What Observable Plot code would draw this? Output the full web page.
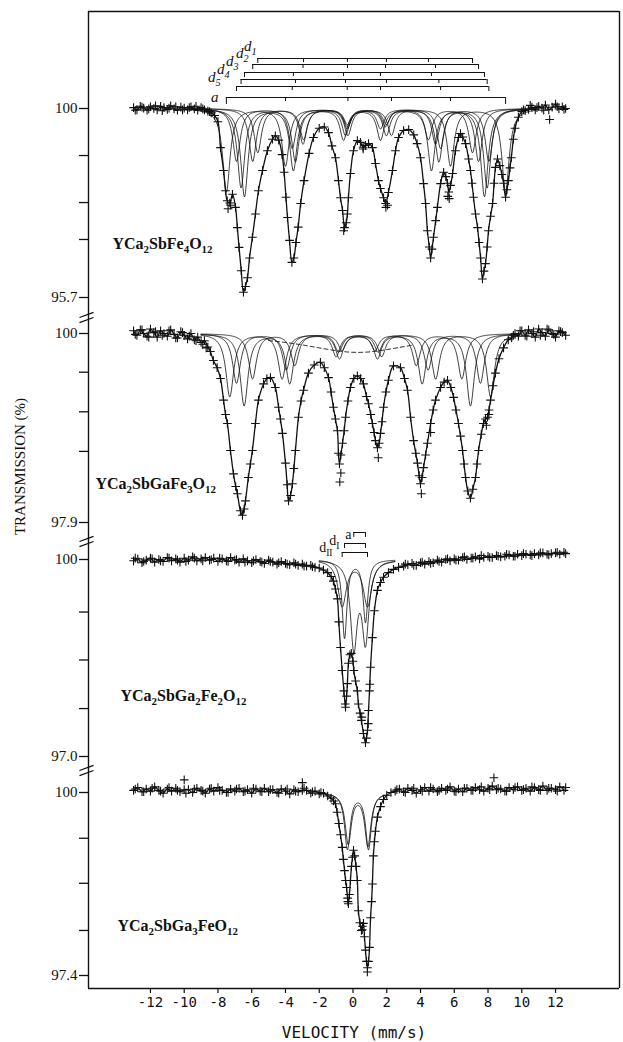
<!DOCTYPE html>
<html><head><meta charset="utf-8">
<script src="https://cdn.jsdelivr.net/npm/d3@7"></script>
<script src="https://cdn.jsdelivr.net/npm/@observablehq/plot@0.6"></script>
<style>
html,body{margin:0;padding:0;background:#fff;}
#chart{position:relative;width:623px;height:1042px;overflow:hidden;background:#fff;}
#chart svg{position:absolute;left:0;top:0;}
</style></head><body><div id="chart"></div>
<script>
// ======================= DATA =======================
const velocityTicks = [-12,-10,-8,-6,-4,-2,0,2,4,6,8,10,12];
const xTitle = "VELOCITY (mm/s)";
const yTitle = "TRANSMISSION (%)";

// ---- Panel 1: YCa2SbFe4O12 ----
const p1Formula = "YCa_{2}SbFe_{4}O_{12}";
const p1Ticks = [100, 98.93, 97.86, 97.02, 95.7];
const p1TickLabels = ["100", "", "", "", "95.7"];
const p1Vel = [-13,-12.8,-12.6,-12.4,-12.2,-12,-11.8,-11.6,-11.4,-11.2,-11,-10.8,-10.6,-10.4,-10.2,-10,-9.8,-9.6,-9.4,-9.2,-9,-8.8,-8.6,-8.4,-8.2,
 -8,-7.85,-7.67,-7.55,-7.45,-7.3,-7.14,-6.96,-6.85,-6.75,-6.62,-6.49,-6.37,-6.25,-6.13,-5.96,-5.78,-5.6,-5.36,-5.07,-4.77,-4.6,-4.4,-4.2,-4.08,-3.97,-3.88,-3.76,-3.62,-3.5,-3.38,-3.25,-3.1,-2.9,-2.6,-2.34,-2,-1.7,-1.45,-1.25,-1.04,-0.86,-0.74,-0.62,-0.5,-0.4,-0.33,-0.27,-0.15,0.03,0.26,0.44,0.6,0.74,0.92,1.15,1.33,1.51,1.63,1.81,1.93,2.1,2.34,2.52,2.7,3,3.3,3.6,3.8,4,4.18,4.3,4.41,4.52,4.6,4.68,4.77,4.9,5,5.19,5.37,5.5,5.6,5.68,5.78,5.9,6.07,6.25,6.37,6.5,6.67,6.85,6.96,7.05,7.14,7.26,7.38,7.47,7.56,7.67,7.76,7.85,7.95,8.03,8.15,8.27,8.36,8.44,8.56,8.7,8.82,8.92,9.04,9.12,9.21,9.3,9.38,9.5,9.6,9.8,10,
 10.2,10.4,10.6,10.8,11,11.2,11.4,11.6,11.8,12,12.2,12.4,12.6];
const p1Trans = [100.02,99.97,100.05,100.01,99.96,100.04,100,99.97,100.05,100.02,99.98,100.06,99.99,99.96,100.03,100.01,99.97,100.04,99.99,99.96,100.02,99.97,99.94,99.9,99.84,
 99.7,99.11,98.59,98.13,97.9,97.85,98.05,97.75,97.29,96.84,96.31,95.82,95.95,96.15,96.6,97.07,97.6,98.13,98.59,99.04,99.3,99.38,99.28,98.95,98.55,97.98,97.52,97,96.5,96.6,96.95,97.3,97.84,98.36,98.98,99.34,99.55,99.58,99.45,99.15,98.88,98.36,97.97,97.68,97.29,97.4,97.6,97.97,98.52,99.04,99.27,99.23,99.12,99.16,99.2,99.11,98.75,98.36,98.18,97.97,97.84,98.09,98.59,99.04,99.34,99.5,99.52,99.4,99.2,98.88,98.29,97.84,97.22,96.85,96.6,96.8,97.07,97.45,97.75,98.29,98.55,98.45,98.3,98.1,98.25,98.52,99.04,99.34,99.43,99.35,99.2,98.85,98.59,98.3,97.98,97.6,97.29,96.95,96.6,96.12,96.3,96.47,96.85,97.22,97.55,97.84,98.3,98.66,98.85,98.7,98.5,98.3,97.98,98.15,98.36,98.65,98.88,99.3,99.55,99.8,99.93,
 99.95,99.98,100.03,99.97,100.05,100.01,100.08,99.97,100.03,100.1,99.99,100.04,100];
const p1OutVel = [-12.9,-12.5,-12.1,-11.7,-11.3,-10.9,-10.5,-10.1,-9.7,-9.3,-8.9,-8.5,-7.4,-7.25,-0.55,0.6,1.95,2.05,5.62,5.7,10.1,10.5,10.9,11.3,11.65,12.1,12.5];
const p1OutTrans = [99.96,100.03,99.99,100.06,99.95,100.01,100.04,99.97,100.02,100.05,99.99,99.93,97.72,97.8,97.22,99.08,97.75,97.8,98.0,97.95,99.97,100.07,100.02,99.96,99.75,100.04,99.98];
const p1SiteNames = ["a","d_{5}","d_{4}","d_{3}","d_{2}","d_{1}"];
const p1SiteLines = [
  [-7.5,-4.0,-0.3,2.28,5.78,9.04],
  [-6.9,-3.6,-0.34,1.63,5.19,8.05],
  [-6.63,-3.41,-0.44,1.98,5.09,7.95],
  [-6.43,-3.53,-0.56,1.63,4.65,7.79],
  [-5.94,-2.96,-0.33,1.93,4.89,7.44],
  [-5.64,-2.93,-0.33,1.98,4.47,7.08]];
const p1SiteDepths = [
  [1.9,1.3,0.6,0.6,1.3,1.9],
  [1.2,0.9,0.45,0.45,0.9,1.2],
  [1.8,1.2,0.6,0.6,1.2,1.8],
  [2.0,1.4,0.7,0.7,1.4,2.0],
  [1.2,0.8,0.4,0.4,0.8,1.2],
  [1.0,0.7,0.35,0.35,0.7,1.0]];
const p1HalfWidth = 0.26;

// ---- Panel 2: YCa2SbGaFe3O12 ----
const p2Formula = "YCa_{2}SbGaFe_{3}O_{12}";
const p2Ticks = [100, 99.57, 99.13, 98.69, 97.9];
const p2TickLabels = ["100", "", "", "", "97.9"];
const p2Vel = [-13,-12.8,-12.6,-12.4,-12.2,-12,-11.8,-11.6,-11.4,-11.2,-11,-10.8,-10.6,-10.4,-10.2,-10,-9.8,-9.6,-9.4,-9.2,-9,-8.8,-8.6,-8.45,
 -8.27,-8.05,-7.85,-7.67,-7.55,-7.44,-7.26,-7.08,-6.95,-6.85,-6.67,-6.55,-6.45,-6.37,-6.2,-6.08,-5.96,-5.78,-5.6,-5.3,-5.1,-4.89,-4.6,-4.41,-4.3,-4.18,-4,-3.9,-3.82,-3.7,-3.59,-3.5,-3.41,-3.23,-3.08,-2.93,-2.64,-2.3,-1.93,-1.7,-1.45,-1.3,-1.16,-1.04,-0.92,-0.86,-0.8,-0.72,-0.62,-0.52,-0.44,-0.3,-0.15,0.05,0.26,0.45,0.62,0.8,0.92,1.05,1.15,1.25,1.33,1.45,1.55,1.63,1.72,1.81,1.95,2.1,2.4,2.81,3.05,3.23,3.41,3.59,3.72,3.82,3.92,4,4.09,4.18,4.3,4.41,4.6,4.75,4.89,5.19,5.4,5.6,5.8,5.96,6.1,6.25,6.37,6.49,6.58,6.67,6.8,6.96,7.1,7.26,7.35,7.44,7.6,7.73,7.85,7.97,8.06,8.15,8.3,8.44,8.65,8.92,9.2,
 9.4,9.6,9.8,10,10.2,10.4,10.6,10.8,11,11.2,11.4,11.6,11.8,12,12.2,12.4,12.6];
const p2Trans = [100.03,99.98,100.04,100,99.97,100.05,100.01,99.96,100.03,100,99.97,100.04,99.99,99.95,100.02,99.98,99.94,100,99.93,99.96,99.9,99.92,99.85,99.8,
 99.7,99.62,99.5,99.26,99.1,99,98.7,98.44,98.3,98.22,98.03,97.98,98.05,98.14,98.4,98.55,98.7,99,99.26,99.44,99.5,99.51,99.4,99.18,99.05,98.89,98.56,98.32,98.14,98.2,98.33,98.5,98.7,99.07,99.25,99.37,99.56,99.65,99.68,99.62,99.51,99.35,99.18,99.05,98.92,98.67,98.55,98.65,98.78,98.92,99.07,99.25,99.4,99.5,99.53,99.5,99.44,99.3,99.22,99.1,99,98.9,98.81,98.73,98.78,98.89,99.02,99.18,99.35,99.48,99.64,99.62,99.5,99.37,99.07,98.81,98.67,98.56,98.42,98.33,98.4,98.51,98.65,98.78,99,99.15,99.26,99.4,99.46,99.48,99.4,99.29,99.15,99,98.86,98.7,98.55,98.4,98.25,98.17,98.27,98.4,98.55,98.7,98.88,99,99.05,99.07,99.15,99.26,99.42,99.56,99.72,99.84,99.93,
 99.95,100,99.97,100.03,99.98,100.04,100,99.96,100.05,100.01,99.97,100.04,100,99.96,100.03,100.01,99.98];
const p2OutVel = [-12.9,-12.5,-12.1,-11.7,-11.3,-10.9,-10.5,-10.1,-9.7,-9.3,-8.9,-8.7,-0.78,-0.72,1.5,4.05,4.6,7.9,8.05,9.5,9.9,10.3,10.7,11.1,11.5,11.9,12.3];
const p2OutTrans = [99.99,100.04,99.96,100.02,99.98,100.03,99.95,100.01,99.97,99.92,99.88,99.84,98.35,98.45,98.62,98.22,98.9,98.98,99.1,99.98,100.03,99.97,100.02,99.98,100.05,99.99,100.02];
const p2SiteLines = [
  [-7.3,-4.2,-1.0,1.7,4.9,8.15],
  [-6.9,-3.95,-0.85,1.5,4.45,7.55],
  [-6.45,-3.75,-0.8,1.45,4.1,6.96],
  [-5.95,-3.45,-0.65,1.3,3.75,6.45]];
const p2SiteDepths = [
  [0.7,0.5,0.25,0.25,0.5,0.7],
  [0.55,0.4,0.2,0.2,0.4,0.55],
  [0.8,0.55,0.27,0.27,0.55,0.8],
  [0.5,0.35,0.18,0.18,0.35,0.5]];
const p2HalfWidth = 0.28;
const p2BroadCenter = 0.3, p2BroadDepth = 0.21, p2BroadHalfWidth = 4.1;
const p2BroadSpan = [-5.0, 3.5];

// ---- Panel 3: YCa2SbGa2Fe2O12 ----
const p3Formula = "YCa_{2}SbGa_{2}Fe_{2}O_{12}";
const p3Ticks = [100, 99.2, 98.47, 97.73, 97.0];
const p3TickLabels = ["100", "", "", "", "97.0"];
const p3Vel = [-13,-12.75,-12.5,-12.25,-12,-11.75,-11.5,-11.25,-11,-10.75,-10.5,-10.25,-10,-9.75,-9.5,-9.25,-9,-8.75,-8.5,-8.25,-8,-7.75,-7.5,-7.25,-7,-6.75,-6.5,-6.25,-6,-5.75,-5.5,-5.25,-5,-4.75,-4.5,-4.25,-4,-3.75,-3.5,-3.25,-3,-2.75,-2.5,-2.25,
 -2,-1.75,-1.5,-1.3,-1.16,-1.04,-0.92,-0.84,-0.74,-0.64,-0.54,-0.44,-0.38,-0.33,-0.27,-0.18,-0.1,0,0.05,0.15,0.26,0.32,0.42,0.5,0.62,0.74,0.8,0.86,0.92,0.98,1.04,1.15,1.27,1.45,1.63,1.81,2.1,2.4,2.7,
 3,3.25,3.5,3.75,4,4.25,4.5,4.75,5,5.25,5.5,5.75,6,6.25,6.5,6.75,7,7.25,7.5,7.75,8,8.25,8.5,8.75,9,9.25,9.5,9.75,10,10.25,10.5,10.75,11,11.25,11.5,11.75,12,12.25,12.5];
const p3Trans = [99.98,100.01,99.95,99.99,100.02,99.96,100,99.97,100.03,99.98,100.01,99.96,100.02,99.99,100.04,99.98,100.01,100.03,99.99,100.02,99.97,100.01,99.98,100.03,99.99,99.96,100.01,99.98,99.95,100,99.97,99.94,99.99,99.96,99.93,99.97,99.94,99.92,99.95,99.91,99.93,99.9,99.91,99.88,
 99.87,99.84,99.8,99.74,99.67,99.55,99.4,99.05,98.66,98.31,98,97.75,97.92,98.11,98.42,98.55,98.57,98.45,98.31,98.15,98,97.8,97.66,97.55,97.35,97.21,97.28,97.4,97.7,98,98.36,98.81,99.22,99.53,99.65,99.73,99.8,99.85,99.88,
 99.9,99.92,99.94,99.91,99.95,99.93,99.97,99.95,99.99,99.96,100,99.98,100.01,99.99,100.03,100,100.02,100.04,100.01,100.03,100.05,100.03,100.06,100.04,100.05,100.07,100.05,100.08,100.06,100.08,100.07,100.09,100.07,100.1,100.08,100.09,100.1,100.08,100.11];
const p3OutVel = [-12.9,-12.4,-11.9,-11.4,-10.9,-10.4,-9.9,-9.4,-8.9,-8.4,-7.9,-7.4,-6.9,-6.4,-5.9,-5.4,-4.9,-4.4,-3.9,-3.4,-2.9,-2.4,-0.46,0.52,0.9,1.0,
 3.1,3.6,4.1,4.6,5.1,5.6,6.1,6.6,7.1,7.6,8.1,8.6,9.1,9.6,10.1,10.6,11.1,11.6,12.1,12.6];
const p3OutTrans = [100.02,99.97,100.01,99.98,100.02,99.99,99.97,100.02,99.98,100.0,100.02,99.97,100.0,99.96,99.98,99.96,99.97,99.95,99.93,99.93,99.9,99.89,97.8,97.6,97.5,98.1,
 99.93,99.91,99.96,99.94,99.97,100.01,99.99,100.04,100.02,100.06,100.03,100.05,100.08,100.05,100.09,100.06,100.1,100.07,100.11,100.09];
const p3SiteNames = ["a","d_{I}","d_{II}"];
const p3SiteLines = [[0.05,0.74],[-0.5,0.74],[-0.64,0.86]];
const p3SiteDepths = [[1.3,1.2],[1.2,0.95],[0.7,0.7]];
const p3SiteHalfWidths = [0.24,0.17,0.3];

// ---- Panel 4: YCa2SbGa3FeO12 ----
const p4Formula = "YCa_{2}SbGa_{3}FeO_{12}";
const p4Ticks = [100, 99.35, 98.71, 98.04, 97.4];
const p4TickLabels = ["100", "", "", "", "97.4"];
const p4Vel = [-13,-12.75,-12.5,-12.25,-12,-11.75,-11.5,-11.25,-11,-10.75,-10.5,-10.25,-10,-9.75,-9.5,-9.25,-9,-8.75,-8.5,-8.25,-8,-7.75,-7.5,-7.25,-7,-6.75,-6.5,-6.25,-6,-5.75,-5.5,-5.25,-5,-4.75,-4.5,-4.25,-4,-3.75,-3.5,-3.25,-3,-2.75,-2.5,-2.25,-2,
 -1.75,-1.5,-1.3,-1.15,-1.04,-0.94,-0.84,-0.74,-0.64,-0.57,-0.5,-0.44,-0.38,-0.32,-0.27,-0.21,-0.15,-0.09,-0.03,0.03,0.1,0.18,0.26,0.32,0.41,0.5,0.56,0.62,0.68,0.74,0.8,0.86,0.92,0.98,1.04,1.1,1.15,1.21,1.27,1.33,1.45,1.63,1.81,2,2.25,
 2.5,2.75,3,3.25,3.5,3.75,4,4.25,4.5,4.75,5,5.25,5.5,5.75,6,6.25,6.5,6.75,7,7.25,7.5,7.75,8,8.25,8.5,8.75,9,9.25,9.5,9.75,10,10.25,10.5,10.75,11,11.25,11.5,11.75,12,12.25,12.5];
const p4Trans = [100.03,100.07,100.01,100.05,100.02,100.08,100.03,99.99,100.05,100.02,100.06,100.01,100.04,100.04,100,100.06,100.03,99.99,100.05,100.02,100.07,100.03,100,100.05,100.02,100.06,100.01,100.04,99.99,100.05,100.02,100.06,100.01,100.04,100,100.05,100.02,99.98,100.04,100.01,100.03,100.03,99.99,100.02,99.98,
 99.99,99.95,99.92,99.88,99.84,99.72,99.56,99.4,99.22,99.05,98.89,98.75,98.65,98.5,98.42,98.55,98.75,98.95,99.08,99.18,99.1,98.95,98.75,98.32,98.15,98.04,98.1,98.14,97.95,97.76,97.6,97.51,97.6,97.8,98.22,98.45,98.7,99.1,99.3,99.45,99.65,99.8,99.9,99.96,100,
 100.02,100.05,100.01,100.06,100.03,99.99,100.04,100.07,100.02,100.05,100.01,100.06,100.03,100.08,100.02,100.05,100.01,100.06,100.03,100.07,100.04,100.02,100.06,100.09,100.04,100.05,100.02,100.07,100.04,100.08,100.03,100.06,100.02,100.07,100.04,100.09,100.03,100.06,100.04,100.08,100.03];
const p4OutVel = [-10,-3,8.35,-0.3,0.55,0.85,
 -12.9,-12.4,-11.9,-11.4,-10.9,-10.4,-9.9,-9.4,-8.9,-8.4,-7.9,-7.4,-6.9,-6.4,-5.9,-5.4,-4.9,-4.4,-3.9,-3.4,-2.9,-2.4,-1.9,
 2.6,3.1,3.6,4.1,4.6,5.1,5.6,6.1,6.6,7.1,7.6,8.1,8.6,9.1,9.6,10.1,10.6,11.1,11.6,12.1,12.6];
const p4OutTrans = [100.18,100.14,100.21,98.45,98.05,97.45,
 100.05,100.01,100.06,100.02,100.07,100.03,99.99,100.05,100.02,100.06,100.03,100.0,100.05,100.02,100.06,100.01,100.04,99.99,100.05,100.02,100.06,100.01,100.0,
 100.04,100.0,100.06,100.02,100.07,100.03,100.05,100.01,100.06,100.03,100.08,100.04,100.06,100.02,100.07,100.04,100.08,100.03,100.06,100.02,100.07];
const p4SiteLines = [[-0.33,0.92],[-0.28,0.88]];
const p4SiteDepths = [[0.8,0.8],[0.72,0.75]];
const p4SiteHalfWidths = [0.2,0.22];

// ======================= LAYOUT =======================
const W = 623, H = 1042;
const X_DOMAIN = [-15.67, 15.79];
const ML = 88, MR = 4;
const SERIF = "'Liberation Serif','Times New Roman','DejaVu Serif',serif";
const MONO = "'DejaVu Sans Mono','Liberation Mono',monospace";
const INK = "#111";

const L1 = {top: 11, bottom: 316, y100: 108, yLo: 297, lo: 95.7};
const L2 = {top: 316, bottom: 541, y100: 333, yLo: 522, lo: 97.9};
const L3 = {top: 541, bottom: 771, y100: 559, yLo: 756, lo: 97.0};
const L4 = {top: 771, bottom: 988, y100: 792, yLo: 975, lo: 97.4};

const toV = px => X_DOMAIN[0] + (px - ML) * (X_DOMAIN[1] - X_DOMAIN[0]) / (W - MR - ML);
const toT = (L, py) => 100 - (py - L.y100) * (100 - L.lo) / (L.yLo - L.y100);
const pts = (V, T) => V.map((v, i) => ({v, t: T[i]}));

function siteCurve(lines, depths, hw, span, name) {
  return d3.range(span[0], span[1] + 1e-9, 0.04).map(v => ({
    name, v, t: 100 - d3.sum(lines, (c, i) => depths[i] / (1 + ((v - c) / hw) ** 2))
  }));
}

function breakMarks(L, cy) {
  return [-2.6, 2.6].map(o => ({x1: toV(79), y1: toT(L, cy + o + 2.6), x2: toV(93), y2: toT(L, cy + o - 2.6)}));
}

function basePanel(L, spec) {
  const data = pts(spec.vel, spec.trans);
  const out = pts(spec.outVel, spec.outTrans);
  const marks = [
    Plot.ruleX(X_DOMAIN, {stroke: INK, strokeWidth: 1.4}),
    Plot.axisY({anchor: "left", ticks: spec.ticks, tickFormat: d => spec.tickLabels[spec.ticks.indexOf(d)] ?? "",
      tickSize: 9, tickPadding: 2, label: null, fontFamily: SERIF, fontSize: 15, strokeWidth: 1.3, color: INK}),
    ...spec.components,
    Plot.line(data, {x: "v", y: "t", curve: "catmull-rom", stroke: INK, strokeWidth: 1.3}),
    Plot.dot(data.concat(out), {x: "v", y: "t", symbol: "plus", r: 2.9, stroke: INK, strokeWidth: 1.1}),
    Plot.text([{x: toV(spec.labelPx[0]), y: toT(L, spec.labelPx[1]), s: spec.formula}],
      {x: "x", y: "y", text: "s", textAnchor: "start", lineAnchor: "bottom", fontFamily: SERIF, fontWeight: "bold", fontSize: 16, fill: INK}),
    ...(spec.extra || [])
  ];
  if (spec.breakPy) marks.push(Plot.link(breakMarks(L, spec.breakPy), {x1: "x1", y1: "y1", x2: "x2", y2: "y2", stroke: INK, strokeWidth: 1.3}));
  return Plot.plot({
    width: W, height: H,
    marginLeft: ML, marginRight: MR, marginTop: L.top, marginBottom: H - L.bottom,
    style: {background: "transparent", overflow: "visible"},
    x: {domain: X_DOMAIN, ...(spec.xAxis ? {} : {axis: null})},
    y: {domain: [L.lo, 100], range: [L.yLo, L.y100]},
    marks
  });
}

// ---- Panel 1 extras: components and stick diagram ----
const p1Components = p1SiteLines.map((lines, i) =>
  Plot.line(siteCurve(lines, p1SiteDepths[i], p1HalfWidth, [-9.6, 10.8], p1SiteNames[i]), {x: "v", y: "t", stroke: INK, strokeWidth: 0.8}));
const p1StickPy = [97, 86, 79, 72, 64, 58];          // bar heights (px)
const p1StickLabelPx = [[218,101],[220,81],[229,73],[238,65],[248,57],[256,50]];
const p1Bars = p1SiteLines.map((l, i) => ({x1: l[0], x2: l[5], y: toT(L1, p1StickPy[i])}));
const p1TickMarks = p1SiteLines.flatMap((l, i) => l.map((c, j) => ({x: c, y1: toT(L1, p1StickPy[i]), y2: toT(L1, p1StickPy[i] + ((j === 0 || j === 5) ? (i === 0 ? 7 : 5) : 4))})));
const p1Labels = p1SiteNames.map((n, i) => ({x: toV(p1StickLabelPx[i][0]), y: toT(L1, p1StickLabelPx[i][1]), s: n}));
const p1Extra = [
  Plot.ruleY(p1Bars, {y: "y", x1: "x1", x2: "x2", stroke: INK, strokeWidth: 1}),
  Plot.ruleX(p1TickMarks, {x: "x", y1: "y1", y2: "y2", stroke: INK, strokeWidth: 1}),
  Plot.text(p1Labels, {x: "x", y: "y", text: "s", textAnchor: "end", lineAnchor: "bottom", fontFamily: SERIF, fontStyle: "italic", fontSize: 15, fill: INK}),
  Plot.ruleY([toT(L1, L1.top)], {stroke: INK, strokeWidth: 1.4})
];

// ---- Panel 2 extras ----
const p2Components = p2SiteLines.map((lines, i) =>
  Plot.line(siteCurve(lines, p2SiteDepths[i], p2HalfWidth, [-9.0, 9.8], "s" + i), {x: "v", y: "t", stroke: INK, strokeWidth: 0.8}));
p2Components.push(Plot.line(siteCurve([p2BroadCenter], [p2BroadDepth], p2BroadHalfWidth, p2BroadSpan, "broad"),
  {x: "v", y: "t", stroke: INK, strokeWidth: 1, strokeDasharray: "4,3"}));
const p2Extra = [
  Plot.text([{x: toV(20), y: toT(L2, 466), s: yTitle}], {x: "x", y: "y", text: "s", rotate: -90, textAnchor: "middle", lineAnchor: "middle", fontFamily: SERIF, fontSize: 15, fill: INK})
];

// ---- Panel 3 extras ----
const p3Components = p3SiteLines.map((lines, i) =>
  Plot.line(siteCurve(lines, p3SiteDepths[i], p3SiteHalfWidths[i], [-2.0, 2.5], "s" + i), {x: "v", y: "t", stroke: INK, strokeWidth: 0.8}));
const p3StickPy = [532, 543, 552];
const p3StickLabelPx = [[351,538],[339,544],[332,551]];
const p3Bars = p3SiteLines.map((l, i) => ({x1: l[0], x2: l[1], y: toT(L3, p3StickPy[i])}));
const p3TickMarks = p3SiteLines.flatMap((l, i) => l.map(c => ({x: c, y1: toT(L3, p3StickPy[i]), y2: toT(L3, p3StickPy[i] + 5)})));
const p3Labels = p3SiteNames.map((n, i) => ({x: toV(p3StickLabelPx[i][0]), y: toT(L3, p3StickLabelPx[i][1]), s: n}));
const p3Extra = [
  Plot.ruleY(p3Bars, {y: "y", x1: "x1", x2: "x2", stroke: INK, strokeWidth: 1}),
  Plot.ruleX(p3TickMarks, {x: "x", y1: "y1", y2: "y2", stroke: INK, strokeWidth: 1}),
  Plot.text(p3Labels, {x: "x", y: "y", text: "s", textAnchor: "end", lineAnchor: "bottom", fontFamily: SERIF, fontSize: 14, fill: INK})
];

// ---- Panel 4 extras ----
const p4Components = p4SiteLines.map((lines, i) =>
  Plot.line(siteCurve(lines, p4SiteDepths[i], p4SiteHalfWidths[i], [-1.75, 1.9], "s" + i), {x: "v", y: "t", stroke: INK, strokeWidth: 0.8}));
const p4Extra = [
  Plot.ruleY([toT(L4, L4.bottom)], {stroke: INK, strokeWidth: 1.4}),
  Plot.axisX({anchor: "bottom", ticks: velocityTicks, tickFormat: d => String(d), tickSize: 5, tickPadding: 4,
    label: null, fontFamily: MONO, fontSize: 14, strokeWidth: 1.2, color: INK}),
  Plot.text([xTitle], {frameAnchor: "bottom", dy: 44, lineAnchor: "middle", fontFamily: MONO, fontSize: 16, fill: INK})
];

const plots = [
  basePanel(L1, {vel: p1Vel, trans: p1Trans, outVel: p1OutVel, outTrans: p1OutTrans, ticks: p1Ticks, tickLabels: p1TickLabels,
    components: p1Components, formula: p1Formula, labelPx: [112, 248], extra: p1Extra, breakPy: 317}),
  basePanel(L2, {vel: p2Vel, trans: p2Trans, outVel: p2OutVel, outTrans: p2OutTrans, ticks: p2Ticks, tickLabels: p2TickLabels,
    components: p2Components, formula: p2Formula, labelPx: [95, 488], extra: p2Extra, breakPy: 541}),
  basePanel(L3, {vel: p3Vel, trans: p3Trans, outVel: p3OutVel, outTrans: p3OutTrans, ticks: p3Ticks, tickLabels: p3TickLabels,
    components: p3Components, formula: p3Formula, labelPx: [120, 700], extra: p3Extra, breakPy: 770}),
  basePanel(L4, {vel: p4Vel, trans: p4Trans, outVel: p4OutVel, outTrans: p4OutTrans, ticks: p4Ticks, tickLabels: p4TickLabels,
    components: p4Components, formula: p4Formula, labelPx: [117, 930], extra: p4Extra, xAxis: true})
];

const chart = document.getElementById("chart");
plots.forEach(p => chart.appendChild(p));

// axis label fonts: set directly on the axis tick-label texts
const yLabelSet = new Set([p1TickLabels, p2TickLabels, p3TickLabels, p4TickLabels].flat().filter(s => s));
const xLabelSet = new Set(velocityTicks.map(String));
plots.forEach((svg, k) => {
  svg.querySelectorAll("text").forEach(t => {
    const s = t.textContent;
    if (yLabelSet.has(s)) {
      t.style.fontFamily = SERIF; t.style.fontSize = "15px"; t.style.fontVariant = "normal";
    } else if (k === 3 && xLabelSet.has(s)) {
      t.style.fontFamily = MONO; t.style.fontSize = "14px"; t.style.fontVariant = "normal";
    } else if (s === yTitle) {
      t.style.fontFamily = SERIF; t.style.fontSize = "15px";
    }
  });
});

// subscripts: turn "_{..}" into lowered, smaller tspans
function subify(svg) {
  svg.querySelectorAll("text").forEach(t => {
    const s = t.textContent;
    if (!s.includes("_{")) return;
    const fs = parseFloat(getComputedStyle(t).fontSize) || 16;
    const shift = (fs * 0.3).toFixed(2);
    t.textContent = "";
    let down = false;
    s.split(/(_\{[^}]*\})/).forEach(part => {
      if (!part) return;
      const ts = document.createElementNS("http://www.w3.org/2000/svg", "tspan");
      if (part.startsWith("_{")) {
        ts.textContent = part.slice(2, -1);
        ts.setAttribute("font-size", (fs * 0.68).toFixed(2));
        if (!down) { ts.setAttribute("dy", shift); down = true; }
      } else {
        ts.textContent = part;
        if (down) { ts.setAttribute("dy", "-" + shift); down = false; }
      }
      t.appendChild(ts);
    });
  });
}
plots.forEach(subify);
</script></body></html>
